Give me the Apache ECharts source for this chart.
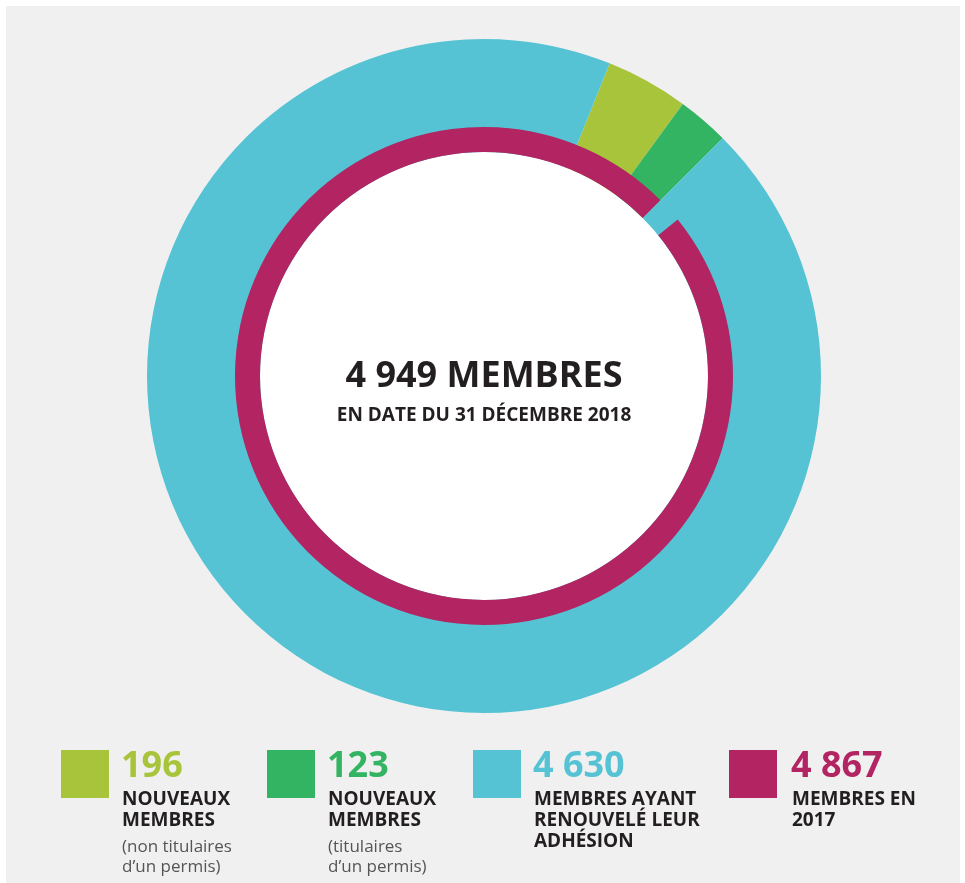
<!DOCTYPE html>
<html>
<head>
<meta charset="utf-8">
<script src="https://cdn.jsdelivr.net/npm/echarts@6/dist/echarts.min.js"></script>
<style>
  html, body { margin: 0; padding: 0; background: #fff; }
  #bg { position: absolute; left: 6px; top: 6px; width: 954px; height: 877px; background: #f0f0f0; }
  #myChart { position: absolute; left: 0; top: 0; width: 965px; height: 883px; }
</style>
</head>
<body>
<div id="bg"></div>
<div id="myChart"></div>
<script>
// données du graphique
var categories = ['Nouveaux membres (non titulaires)', 'Nouveaux membres (titulaires)', 'Membres ayant renouvelé leur adhésion'];
var outerValues = [196, 123, 4630];
var members2017 = 4867;
var colors = ['#a8c43a', '#33b462', '#55c3d4', '#b22462'];
var legendNums = [196, 123, 4630, 4867];
var legendLabels = [
  ['NOUVEAUX', 'MEMBRES'],
  ['NOUVEAUX', 'MEMBRES'],
  ['MEMBRES AYANT', 'RENOUVELÉ LEUR', 'ADHÉSION'],
  ['MEMBRES EN', '2017']
];
var legendNotes = [
  ['(non titulaires', 'd\u2019un permis)'],
  ['(titulaires', 'd\u2019un permis)'],
  [],
  []
];
var subtitle = 'EN DATE DU 31 DÉCEMBRE 2018';

function fmt(n) {
  return String(n).replace(/\B(?=(\d{3})+(?!\d))/g, ' ');
}

var total = 0;
for (var i = 0; i < outerValues.length; i++) total += outerValues[i];

var center = [484, 376];
var outerStart = 68.1; // degrés, sens anti-horaire depuis 3h
// fin du vert foncé (en degrés horaires depuis midi)
var boundary = (90 - outerStart) + (outerValues[0] + outerValues[1]) / total * 360;
var gap = total - members2017;
var magStart = 90 - (boundary + gap / total * 360);

var outerData = [];
for (var i = 0; i < outerValues.length; i++) {
  outerData.push({ name: categories[i], value: outerValues[i], itemStyle: { color: colors[i] } });
}

var font = '"Open Sans", "Noto Sans", sans-serif';
var sqX = [61, 267, 473, 729];
var txtX = [121, 327, 533, 791];
var graphics = [];
for (var i = 0; i < legendNums.length; i++) {
  graphics.push({
    type: 'rect', shape: { x: sqX[i], y: 750, width: 48, height: 48 },
    style: { fill: colors[i] }, silent: true
  });
  graphics.push({
    type: 'text', x: txtX[i], y: 767,
    style: { text: fmt(legendNums[i]), font: 'bold 36px ' + font, fill: colors[i], verticalAlign: 'middle' }
  });
  graphics.push({
    type: 'text', x: txtX[i] + 1, y: 789,
    style: { text: legendLabels[i].join('\n'), font: 'bold 19px ' + font, fill: '#231f20', lineHeight: 21, verticalAlign: 'top' }
  });
  if (legendNotes[i].length) {
    graphics.push({
      type: 'text', x: txtX[i] + 1, y: 837,
      style: { text: legendNotes[i].join('\n'), font: '17px ' + font, fill: '#555555', lineHeight: 20, verticalAlign: 'top' }
    });
  }
}
graphics.push({
  type: 'text', x: center[0], y: 377,
  style: { text: fmt(total) + ' MEMBRES', font: 'bold 36px ' + font, fill: '#231f20', align: 'center', verticalAlign: 'middle' }
});
graphics.push({
  type: 'text', x: center[0], y: 416,
  style: { text: subtitle, font: 'bold 19px ' + font, fill: '#231f20', align: 'center', verticalAlign: 'middle' }
});

var myChart = echarts.init(document.getElementById('myChart'));
var option = {
  animation: false,
  series: [
    {
      type: 'pie', silent: true, center: center, radius: [0, 224], z: 1,
      label: { show: false }, labelLine: { show: false },
      data: [{ value: 1, itemStyle: { color: '#ffffff' } }]
    },
    {
      name: 'membres 2018', type: 'pie', silent: true, center: center, radius: [224, 337], z: 2,
      startAngle: outerStart, clockwise: true,
      label: { show: false }, labelLine: { show: false },
      itemStyle: { borderWidth: 0 },
      data: outerData
    },
    {
      name: 'membres 2017', type: 'pie', silent: true, center: center, radius: [224, 249], z: 3,
      startAngle: magStart, clockwise: true,
      label: { show: false }, labelLine: { show: false },
      itemStyle: { borderWidth: 0 },
      data: [
        { name: 'Membres en 2017', value: members2017, itemStyle: { color: colors[3] } },
        { name: '', value: gap, itemStyle: { color: 'rgba(0,0,0,0)' } }
      ]
    }
  ],
  graphic: { elements: graphics.map(function (g) { g.z = 100; return g; }) }
};
myChart.setOption(option);
</script>
</body>
</html>
